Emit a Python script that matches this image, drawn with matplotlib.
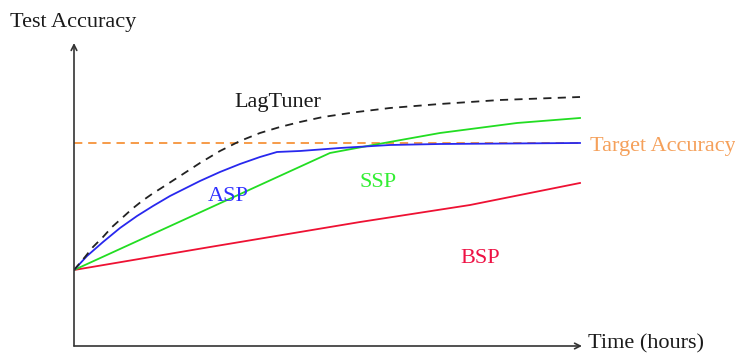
import matplotlib
matplotlib.use("Agg")
import matplotlib.pyplot as plt

# ---- data (time in hours, accuracy in %) ----
lag_x = [0, 0.217, 0.375, 0.573, 0.751, 0.949, 1.146, 1.344, 1.542, 1.759, 2.095,
         2.490, 2.885, 3.281, 3.676, 4.071, 4.466, 4.921, 5.593, 6.245, 7.233, 8.419, 10.0]
lag_y = [25.08, 29.37, 32.67, 35.97, 39.27, 42.24, 45.21, 47.85, 50.17, 52.48, 56.11,
         60.40, 64.36, 67.66, 70.30, 72.28, 73.93, 75.58, 77.23, 78.55, 79.87, 81.19, 82.18]

asp_x = [0, 0.257, 0.573, 0.909, 1.245, 1.561, 1.897, 2.095, 2.490, 2.885, 3.281,
         3.676, 4.012, 4.466, 5.257, 6.245, 7.233, 10.0]
asp_y = [25.08, 29.70, 34.32, 38.94, 42.90, 46.20, 49.50, 51.16, 54.46, 57.43, 60.07,
         62.38, 64.03, 64.36, 65.35, 66.34, 66.67, 67.00]

ssp_x = [0, 5.059, 5.909, 7.233, 8.755, 10.0]
ssp_y = [25.08, 63.70, 66.34, 70.30, 73.60, 75.25]

bsp_x = [0, 2.688, 5.652, 7.826, 10.0]
bsp_y = [25.08, 32.67, 40.92, 46.53, 53.80]

target_acc = 67.0

plt.rcParams['font.family'] = ['Liberation Serif', 'DejaVu Serif']

W, H = 735, 353
fig = plt.figure(figsize=(W / 100, H / 100), dpi=100)
x0, x1, y0, y1 = 74, 582, 346, 43
ax = fig.add_axes([x0 / W, (H - y0) / H, (x1 - x0) / W, (y0 - y1) / H])
ax.set_xlim(0, (x1 - x0) / 50.6)
ax.set_ylim(0, (y0 - y1) / 3.03)
for s in ax.spines.values():
    s.set_visible(False)
ax.set_xticks([])
ax.set_yticks([])

axis_col = '#333333'
ax.annotate('', xy=(1, 0), xytext=(0, 0), xycoords='axes fraction',
            arrowprops=dict(arrowstyle='->', color=axis_col, lw=1.2, shrinkA=0, shrinkB=0))
ax.annotate('', xy=(0, 1), xytext=(0, 0), xycoords='axes fraction',
            arrowprops=dict(arrowstyle='->', color=axis_col, lw=1.2, shrinkA=0, shrinkB=0))

ax.axhline(target_acc, xmin=0, xmax=10.0 / ax.get_xlim()[1], color='#f58a2a',
           lw=1.2, dashes=[5, 3.5])
ax.plot(bsp_x, bsp_y, color='#ee1133', lw=1.3, solid_joinstyle='round')
ax.plot(ssp_x, ssp_y, color='#22dd22', lw=1.3, solid_joinstyle='round')
ax.plot(asp_x, asp_y, color='#2828ee', lw=1.3, solid_joinstyle='round')
ax.plot(lag_x, lag_y, color='#222222', lw=1.3, dashes=[4.5, 3.5])

fs = 16
dy = 1.0
ax.text(4.03, 81.2 - dy, 'LagTuner', color='#1a1a1a', fontsize=fs, ha='center', va='center')
ax.text(3.04, 50.5 - dy, 'ASP', color='#3030ff', fontsize=fs, ha='center', va='center')
ax.text(6.01, 54.8 - dy, 'SSP', color='#33ee33', fontsize=fs, ha='center', va='center')
ax.text(8.02, 30.0 - dy, 'BSP', color='#ee1144', fontsize=fs, ha='center', va='center')
ax.text(10.2, target_acc - dy, 'Target Accuracy', color='#f5a05a', fontsize=fs,
        ha='left', va='center', clip_on=False)
ax.text(10.16, 0.6, 'Time (hours)', color='#1a1a1a', fontsize=fs,
        ha='left', va='center', clip_on=False)
fig.text(10 / W, 1 - 23 / H, 'Test Accuracy', color='#1a1a1a', fontsize=fs,
         ha='left', va='center')

fig.savefig('out.png', dpi=100, facecolor='white')
